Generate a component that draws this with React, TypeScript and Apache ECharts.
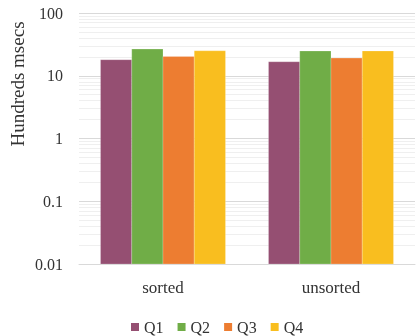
import React, { useEffect, useRef } from "react";
import * as echarts from "echarts";

const categories = ["sorted", "unsorted"];
const seriesNames = ["Q1", "Q2", "Q3", "Q4"];
const q1 = [18.0, 16.7];
const q2 = [26.6, 24.8];
const q3 = [20.3, 19.1];
const q4 = [25.0, 24.8];
const colors = ["#954F72", "#70AD47", "#ED7D31", "#F9BE1F"];
const yMin = 0.01;
const yMax = 100;
const minorGridValues = [
  0.02, 0.03, 0.04, 0.05, 0.06, 0.07, 0.08, 0.09,
  0.2, 0.3, 0.4, 0.5, 0.6, 0.7, 0.8, 0.9,
  2, 3, 4, 5, 6, 7, 8, 9,
  20, 30, 40, 50, 60, 70, 80, 90,
];

const FONT = "'Liberation Serif', 'DejaVu Serif', serif";
const GROUP_FRACTION = 0.744;

export default function App() {
  const ref = useRef<HTMLDivElement>(null);
  useEffect(() => {
    const chart = echarts.init(ref.current!, null, { renderer: "svg" });
    const values = [q1, q2, q3, q4];
    const n = seriesNames.length;

    // Bars on a log axis, each rising from the axis floor (yMin).
    const series: any[] = seriesNames.map((name, i) => ({
      name,
      type: "custom",
      data: values[i].map((v, c) => [c, v]),
      encode: { x: 0, y: 1 },
      itemStyle: { color: colors[i] },
      z: 5,
      renderItem: (params: any, api: any) => {
        const c = api.value(0);
        const v = api.value(1);
        const top = api.coord([c, v]);
        const base = api.coord([c, yMin]);
        const catW = api.size([1, 0])[0];
        const barW = (catW * GROUP_FRACTION) / n;
        const x = top[0] - (catW * GROUP_FRACTION) / 2 + i * barW;
        return {
          type: "rect",
          shape: { x, y: top[1], width: barW, height: base[1] - top[1] },
          style: {
            fill: api.visual("color"),
            stroke: "rgba(255,255,255,0.35)",
            lineWidth: 0.6,
          },
        };
      },
    }));
    // Minor log gridlines (2..9 within each decade), kept behind the bars.
    series.push({
      name: "minor-grid",
      type: "line",
      data: [],
      silent: true,
      z: 1,
      markLine: {
        silent: true,
        z: 1,
        symbol: "none",
        label: { show: false },
        lineStyle: { color: "#efefef", width: 1, type: "solid" },
        data: minorGridValues.map((v) => ({ yAxis: v })),
      },
    });

    chart.setOption({
      animation: false,
      textStyle: { fontFamily: FONT },
      grid: { left: 79, right: 1, top: 13, bottom: 72, containLabel: false },
      legend: {
        data: seriesNames,
        top: 314,
        left: 126,
        itemWidth: 8,
        itemHeight: 8,
        itemGap: 14,
        icon: "rect",
        textStyle: { fontFamily: FONT, fontSize: 16, color: "#333" },
      },
      graphic: [
        {
          type: "text",
          x: 17,
          y: 84,
          rotation: Math.PI / 2,
          style: {
            text: "Hundreds msecs",
            fontFamily: FONT,
            fontSize: 19,
            fill: "#333",
            align: "center",
            verticalAlign: "middle",
          },
        },
      ],
      xAxis: {
        type: "category",
        data: categories,
        axisLine: { lineStyle: { color: "#d9d9d9" } },
        axisTick: { show: false },
        axisLabel: { fontFamily: FONT, fontSize: 17, color: "#333", margin: 15 },
      },
      yAxis: {
        type: "log",
        logBase: 10,
        min: yMin,
        max: yMax,
        axisLine: { show: false },
        axisTick: { show: false },
        axisLabel: {
          fontFamily: FONT,
          fontSize: 16,
          color: "#333",
          margin: 16,
          formatter: (v: number) => String(Number(v.toPrecision(6))),
        },
        splitLine: { show: true, lineStyle: { color: "#d9d9d9" } },
      },
      series,
    });
    return () => chart.dispose();
  }, []);
  return (
    <div
      ref={ref}
      style={{ position: "fixed", left: 0, top: 0, width: 416, height: 336 }}
    />
  );
}
